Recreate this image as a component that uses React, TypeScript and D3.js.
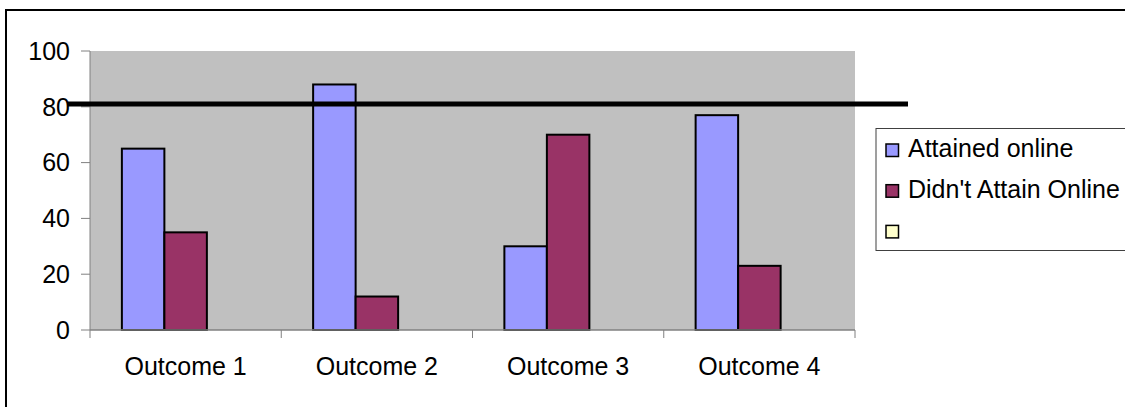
import React from "react";
import * as d3 from "d3";

// Outcome categories and the two reported series (percent)
const categories = ["Outcome 1", "Outcome 2", "Outcome 3", "Outcome 4"];
const seriesNames = ["Attained online", "Didn't Attain Online", ""];
const attainedOnline = [65, 88, 30, 77];
const didntAttainOnline = [35, 12, 70, 23];
const emptySeries: (number | null)[] = [null, null, null, null];
const yTicks = [0, 20, 40, 60, 80, 100];
const targetValue = 81;

const seriesColors = ["#9999FF", "#993366", "#FFFFCC"];

const W = 1125;
const H = 407;
const plot = { left: 90, right: 855, top: 51, bottom: 330 };
const FONT = "'Liberation Sans', Arial, sans-serif";
const FONT_SIZE = 25;

export default function App() {
  const x = d3
    .scaleBand<string>()
    .domain(categories)
    .range([plot.left, plot.right])
    .paddingInner(0)
    .paddingOuter(0);
  const inner = d3
    .scaleBand<number>()
    .domain([0, 1, 2])
    .range([0, x.bandwidth()])
    .paddingInner(0)
    .paddingOuter(0.75);
  const y = d3.scaleLinear().domain([0, 100]).range([plot.bottom, plot.top]);

  const series = [attainedOnline, didntAttainOnline, emptySeries];
  const boundaries = categories.map((c) => x(c)!).concat([plot.right]);

  return (
    <svg
      width={W}
      height={H}
      style={{ position: "absolute", left: 0, top: 0, display: "block" }}
    >
      <rect x={0} y={0} width={W} height={H} fill="#FFFFFF" />
      {/* chart frame */}
      <rect
        x={6}
        y={10}
        width={W + 20}
        height={H + 20}
        fill="none"
        stroke="#000000"
        strokeWidth={2}
      />
      {/* plot area */}
      <rect
        x={plot.left}
        y={plot.top}
        width={plot.right - plot.left}
        height={plot.bottom - plot.top}
        fill="#C0C0C0"
      />

      {/* y axis */}
      <line
        x1={plot.left}
        x2={plot.left}
        y1={plot.top}
        y2={plot.bottom}
        stroke="#808080"
        strokeWidth={1}
      />
      {yTicks.map((t) => (
        <g key={t}>
          <line
            x1={plot.left - 9}
            x2={plot.left}
            y1={y(t)}
            y2={y(t)}
            stroke="#808080"
            strokeWidth={1}
          />
          <text
            x={plot.left - 20}
            y={y(t)}
            dy="0.35em"
            textAnchor="end"
            fontFamily={FONT}
            fontSize={FONT_SIZE}
            fill="#000000"
          >
            {t}
          </text>
        </g>
      ))}

      {/* bars */}
      {series.map((vals, si) =>
        vals.map((v, ci) =>
          v == null ? null : (
            <rect
              key={`${si}-${ci}`}
              x={x(categories[ci])! + inner(si)!}
              y={y(v)}
              width={inner.bandwidth()}
              height={y(0) - y(v)}
              fill={seriesColors[si]}
              stroke="#000000"
              strokeWidth={2}
            />
          )
        )
      )}

      {/* x axis */}
      <line
        x1={plot.left}
        x2={plot.right}
        y1={plot.bottom}
        y2={plot.bottom}
        stroke="#808080"
        strokeWidth={1.5}
      />
      {boundaries.map((bx, i) => (
        <line
          key={i}
          x1={bx}
          x2={bx}
          y1={plot.bottom}
          y2={plot.bottom + 8}
          stroke="#808080"
          strokeWidth={1}
        />
      ))}
      {categories.map((c) => (
        <text
          key={c}
          x={x(c)! + x.bandwidth() / 2}
          y={375}
          textAnchor="middle"
          fontFamily={FONT}
          fontSize={FONT_SIZE}
          fill="#000000"
        >
          {c}
        </text>
      ))}

      {/* target line */}
      <line
        x1={68}
        x2={908}
        y1={y(targetValue)}
        y2={y(targetValue)}
        stroke="#000000"
        strokeWidth={5}
      />

      {/* legend */}
      <rect
        x={876}
        y={128.5}
        width={300}
        height={122}
        fill="#FFFFFF"
        stroke="#404040"
        strokeWidth={1}
      />
      {seriesNames.map((name, i) => (
        <g key={i} transform={`translate(886, ${144 + i * 40.7})`}>
          <rect
            x={0}
            y={0}
            width={12.5}
            height={12.5}
            fill={seriesColors[i]}
            stroke="#000000"
            strokeWidth={1.5}
          />
          <text
            x={22}
            y={13}
            fontFamily={FONT}
            fontSize={FONT_SIZE}
            fill="#000000"
          >
            {name}
          </text>
        </g>
      ))}
    </svg>
  );
}
